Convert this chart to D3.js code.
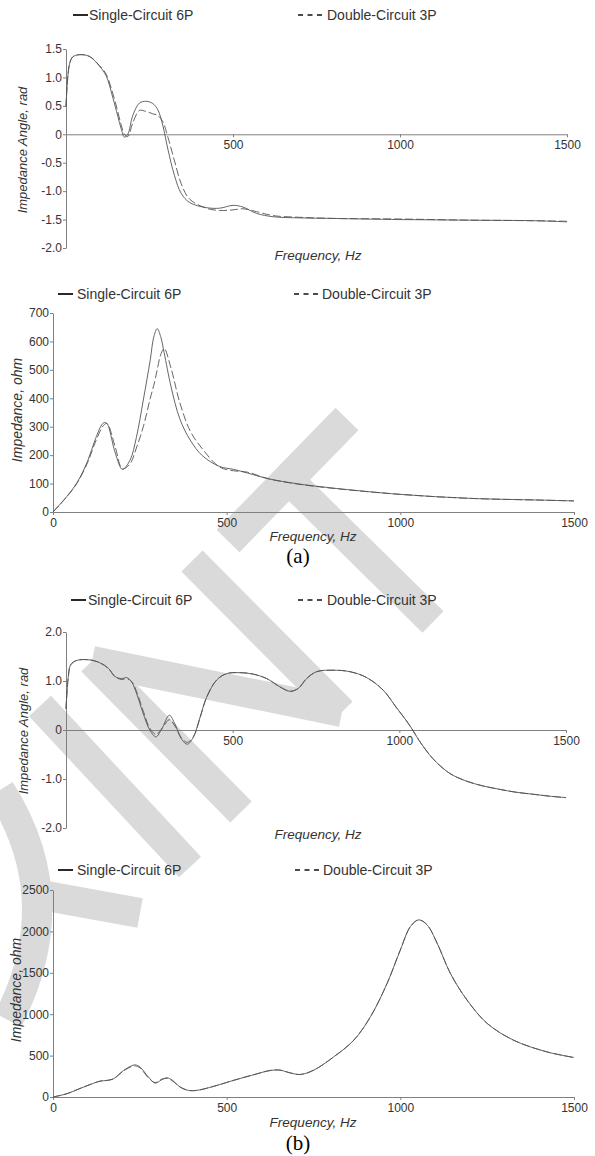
<!DOCTYPE html>
<html>
<head>
<meta charset="utf-8">
<script src="https://cdn.jsdelivr.net/npm/d3@7"></script>
<style>
  body { margin: 0; background: #fff; }
  text { font-family: Arial, "Liberation Sans", sans-serif; fill: #333; }
</style>
</head>
<body>
<svg id="chart" width="595" height="1156"></svg>
<script>
// ---- data ----
var seriesNames = ["Single-Circuit 6P", "Double-Circuit 3P"];

// (a) impedance angle, rad
var freqAngA = [0, 10, 20, 40, 70, 100, 120, 140, 155, 165, 175, 185, 200, 220, 240, 260, 275, 290, 305, 325, 345, 370, 420, 460, 500, 530, 570, 620, 700, 800, 1000, 1200, 1400, 1500];
var angSingleA = [0.49, 1.22, 1.36, 1.40, 1.37, 1.20, 1.03, 0.65, 0.32, 0.10, -0.05, 0.00, 0.33, 0.55, 0.58, 0.54, 0.43, 0.15, -0.26, -0.73, -1.04, -1.20, -1.29, -1.30, -1.25, -1.28, -1.39, -1.45, -1.47, -1.48, -1.50, -1.51, -1.52, -1.54];
var angDoubleA = [0.49, 1.22, 1.36, 1.40, 1.37, 1.21, 1.06, 0.72, 0.40, 0.17, 0.00, -0.04, 0.20, 0.42, 0.40, 0.36, 0.33, 0.22, -0.05, -0.47, -0.87, -1.14, -1.30, -1.34, -1.33, -1.31, -1.36, -1.43, -1.46, -1.48, -1.49, -1.51, -1.52, -1.53];

// (a) impedance, ohm
var freqImpA = [0, 40, 70, 100, 120, 140, 148, 155, 160, 180, 200, 222, 240, 260, 280, 290, 300, 310, 320, 340, 365, 395, 430, 480, 520, 560, 620, 700, 800, 1000, 1200, 1400, 1500];
var impSingleA = [0, 55, 105, 180, 250, 306, 315, 311, 300, 205, 150, 183, 262, 394, 535, 615, 645, 617, 560, 440, 328, 253, 198, 160, 150, 137, 117, 100, 85, 62, 48, 42, 39];
var impDoubleA = [0, 54, 103, 175, 240, 295, 308, 312, 305, 225, 152, 170, 225, 300, 400, 445, 500, 553, 575, 505, 385, 285, 222, 158, 145, 140, 117, 99, 84, 62, 48, 42, 39];

// (b) impedance angle, rad
var freqAngB = [0, 7, 14, 32, 72, 102, 127, 147, 167, 182, 197, 212, 232, 252, 270, 287, 310, 327, 347, 364, 382, 402, 422, 452, 482, 522, 562, 602, 642, 672, 697, 722, 752, 802, 852, 902, 952, 992, 1020, 1040, 1060, 1100, 1150, 1200, 1250, 1300, 1350, 1400, 1450, 1500];
var angSingleB = [0.43, 1.09, 1.33, 1.42, 1.43, 1.37, 1.26, 1.09, 1.05, 1.07, 0.98, 0.74, 0.33, -0.01, -0.14, 0.02, 0.30, 0.12, -0.19, -0.29, -0.15, 0.26, 0.67, 1.02, 1.15, 1.17, 1.14, 1.05, 0.88, 0.79, 0.85, 1.05, 1.19, 1.22, 1.19, 1.07, 0.81, 0.45, 0.20, 0.00, -0.22, -0.58, -0.88, -1.04, -1.14, -1.21, -1.27, -1.31, -1.35, -1.38];
var angDoubleB = [0.43, 1.09, 1.33, 1.42, 1.43, 1.37, 1.26, 1.09, 1.03, 1.05, 0.99, 0.78, 0.38, 0.03, -0.09, 0.02, 0.21, 0.08, -0.17, -0.25, -0.14, 0.24, 0.67, 1.02, 1.15, 1.17, 1.14, 1.05, 0.88, 0.79, 0.85, 1.05, 1.19, 1.22, 1.19, 1.07, 0.81, 0.45, 0.20, 0.00, -0.22, -0.58, -0.88, -1.04, -1.14, -1.21, -1.27, -1.31, -1.35, -1.38];

// (b) impedance, ohm
var freqImpB = [0, 40, 88, 136, 155, 174, 203, 225, 237, 251, 275, 294, 313, 328, 342, 366, 390, 414, 462, 519, 577, 625, 653, 682, 712, 750, 808, 866, 914, 962, 1000, 1029, 1053, 1077, 1106, 1144, 1192, 1250, 1326, 1422, 1500];
var impSingleB = [0, 40, 120, 192, 200, 220, 320, 375, 388, 360, 240, 168, 208, 232, 208, 120, 80, 80, 128, 200, 268, 320, 325, 292, 272, 323, 484, 686, 969, 1373, 1776, 2058, 2139, 2079, 1857, 1494, 1171, 889, 686, 545, 477];
var impDoubleB = [0, 40, 120, 192, 200, 220, 315, 365, 375, 350, 230, 175, 215, 225, 200, 120, 80, 80, 128, 200, 268, 320, 325, 292, 272, 323, 484, 686, 969, 1373, 1776, 2058, 2139, 2079, 1857, 1494, 1171, 889, 686, 545, 477];

var angTicksA = [1.5, 1.0, 0.5, 0, -0.5, -1.0, -1.5, -2.0];
var angTicksB = [2.0, 1.0, 0, -1.0, -2.0];
var impTicksA = [0, 100, 200, 300, 400, 500, 600, 700];
var impTicksB = [0, 500, 1000, 1500, 2000, 2500];
var freqTicksAng = [500, 1000, 1500];
var freqTicksImp = [0, 500, 1000, 1500];

// ---- layout ----
var svg = d3.select("#chart");

// faint watermark behind the plots
function band(x1, y1, x2, y2, w) {
  var dx = x2 - x1, dy = y2 - y1, L = Math.sqrt(dx*dx + dy*dy);
  var px = -dy / L * w / 2, py = dx / L * w / 2;
  return [[x1+px, y1+py], [x2+px, y2+py], [x2-px, y2-py], [x1-px, y1-py]];
}
var wm = svg.append("g").attr("fill", "#dadada");
[
  band(347, 419, 228, 541, 32),
  band(298, 489, 433, 622, 30),
  band(192, 561, 342, 712, 30),
  band(92, 661, 342, 712, 30),
  band(92, 661, 241, 812, 30),
  band(40, 706, 190, 867, 30),
  band(30, 893, 140, 913, 30)
].forEach(function(p) {
  wm.append("polygon").attr("points", p.map(function(q){ return q.join(","); }).join(" "));
});
wm.append("path")
  .attr("d", "M0,790 Q70,900 8,1020")
  .attr("fill", "none").attr("stroke", "#dadada").attr("stroke-width", 30);

var angFmt = function(v){ return v === 0 ? "0" : v.toFixed(1); };
var impFmt = function(v){ return String(v); };

var panels = [
  { freq: freqAngA, s1: angSingleA, s2: angDoubleA, yDom: [-2, 1.5], yTicks: angTicksA, yFmt: angFmt, xTicks: freqTicksAng,
    x0: 66, x1: 567, yTop: 49, yBot: 248, legY: 15, leg: [73, 89, 298, 327],
    yTitle: "Impedance Angle, rad", yTitleX: 27, yTitleY: 150, yTitleSize: 13, xTitleY: 260, xTitleX: 318 },
  { freq: freqImpA, s1: impSingleA, s2: impDoubleA, yDom: [0, 700], yTicks: impTicksA, yFmt: impFmt, xTicks: freqTicksImp,
    x0: 53, x1: 574, yTop: 313, yBot: 512, legY: 294, leg: [58, 77, 294, 322],
    yTitle: "Impedance, ohm", yTitleX: 22, yTitleY: 410, yTitleSize: 14, xTitleY: 541, xTitleX: 313, tag: "(a)", tagY: 563 },
  { freq: freqAngB, s1: angSingleB, s2: angDoubleB, yDom: [-2, 2], yTicks: angTicksB, yFmt: angFmt, xTicks: freqTicksAng,
    x0: 66, x1: 566, yTop: 632, yBot: 828, legY: 600, leg: [71, 88, 298, 327],
    yTitle: "Impedance Angle, rad", yTitleX: 28, yTitleY: 731, yTitleSize: 13, xTitleY: 839, xTitleX: 318 },
  { freq: freqImpB, s1: impSingleB, s2: impDoubleB, yDom: [0, 2500], yTicks: impTicksB, yFmt: impFmt, xTicks: freqTicksImp,
    x0: 53, x1: 574, yTop: 890, yBot: 1097, legY: 870, leg: [58, 77, 295, 323],
    yTitle: "Impedance, ohm", yTitleX: 21, yTitleY: 990, yTitleSize: 14, xTitleY: 1127, xTitleX: 313, tag: "(b)", tagY: 1150 }
];

panels.forEach(function(p) {
  var x = d3.scaleLinear().domain([0, 1500]).range([p.x0, p.x1]);
  var y = d3.scaleLinear().domain(p.yDom).range([p.yBot, p.yTop]);
  var g = svg.append("g");

  // y axis
  var ya = g.append("g").attr("transform", "translate(" + p.x0 + ",0)")
    .call(d3.axisLeft(y).tickValues(p.yTicks).tickFormat(p.yFmt).tickSize(3).tickSizeOuter(0).tickPadding(1));
  // x axis on the zero line
  var xa = g.append("g").attr("transform", "translate(0," + y(0) + ")")
    .call(d3.axisBottom(x).tickValues(p.xTicks).tickFormat(d3.format("d")).tickSize(3).tickSizeOuter(0).tickPadding(3));
  [ya, xa].forEach(function(a) {
    a.select(".domain").attr("stroke", "#808080");
    a.selectAll(".tick line").attr("stroke", "#808080");
    a.selectAll(".tick text").attr("fill", "#333").style("font-size", "12px")
      .style("font-family", "Arial, 'Liberation Sans', sans-serif");
  });

  // curves
  var pts1 = p.freq.map(function(f, i){ return [f, p.s1[i]]; });
  var pts2 = p.freq.map(function(f, i){ return [f, p.s2[i]]; });
  var line = d3.line().x(function(d){ return x(d[0]); }).y(function(d){ return y(d[1]); })
    .curve(d3.curveCatmullRom.alpha(0.5));
  g.append("path").datum(pts2).attr("d", line).attr("fill", "none")
    .attr("stroke", "#555").attr("stroke-width", 0.9).attr("stroke-dasharray", "8,3");
  g.append("path").datum(pts1).attr("d", line).attr("fill", "none")
    .attr("stroke", "#555").attr("stroke-width", 0.9);

  // legend
  var lg = g.append("g");
  lg.append("line").attr("x1", p.leg[0]).attr("x2", p.leg[0] + 15).attr("y1", p.legY).attr("y2", p.legY)
    .attr("stroke", "#111").attr("stroke-width", 1.8);
  lg.append("text").attr("x", p.leg[1]).attr("y", p.legY + 5).style("font-size", "14px").text(seriesNames[0]);
  lg.append("line").attr("x1", p.leg[2]).attr("x2", p.leg[2] + 24).attr("y1", p.legY).attr("y2", p.legY)
    .attr("stroke", "#111").attr("stroke-width", 1.5).attr("stroke-dasharray", "5,4.5");
  lg.append("text").attr("x", p.leg[3]).attr("y", p.legY + 5).style("font-size", "14px").text(seriesNames[1]);

  // axis titles
  g.append("text").attr("transform", "translate(" + p.yTitleX + "," + p.yTitleY + ") rotate(-90)")
    .attr("text-anchor", "middle").style("font-size", p.yTitleSize + "px").style("font-style", "italic").text(p.yTitle);
  g.append("text").attr("x", p.xTitleX).attr("y", p.xTitleY).attr("text-anchor", "middle")
    .style("font-size", "13.5px").style("font-style", "italic").text("Frequency, Hz");

  if (p.tag) {
    g.append("text").attr("x", 298).attr("y", p.tagY).attr("text-anchor", "middle")
      .style("font-family", "'Times New Roman', 'Liberation Serif', serif").style("font-size", "21px")
      .style("fill", "#000").text(p.tag);
  }
});
</script>
</body>
</html>
